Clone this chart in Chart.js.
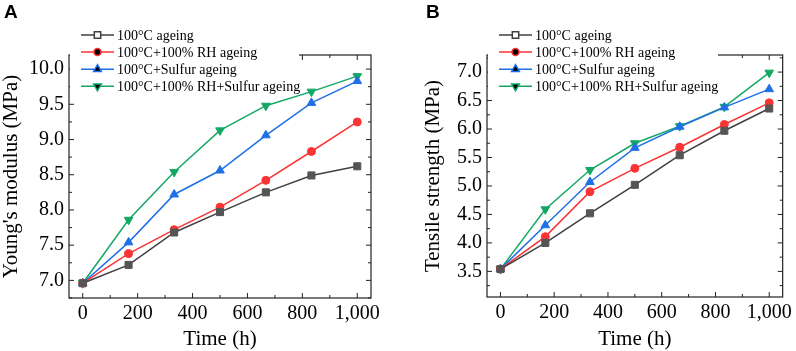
<!DOCTYPE html>
<html>
<head>
<meta charset="utf-8">
<script src="https://cdn.jsdelivr.net/npm/chart.js@4.4.0/dist/chart.umd.min.js"></script>
<style>
  body { margin: 0; background: #fff; }
  #wrap { position: relative; width: 796px; height: 351px; }
  canvas { position: absolute; top: 0; }
</style>
</head>
<body>
<div id="wrap">
  <canvas id="chartA" width="398" height="351" style="left:0"></canvas>
  <canvas id="chartB" width="398" height="351" style="left:398px"></canvas>
</div>
<script>
// ageing time (h)
const times = [0, 167, 333, 500, 667, 833, 1000];
const seriesNames = ['100°C ageing', '100°C+100% RH ageing', '100°C+Sulfur ageing', '100°C+100% RH+Sulfur ageing'];
const xTicks = [0, 200, 400, 600, 800, 1000];

// A: Young's modulus (MPa)
const modHeat      = [6.96, 7.22, 7.68, 7.97, 8.25, 8.49, 8.62];
const modHeatRH    = [6.96, 7.38, 7.72, 8.04, 8.42, 8.83, 9.25];
const modHeatS     = [6.96, 7.54, 8.22, 8.56, 9.06, 9.52, 9.83];
const modHeatRHS   = [6.96, 7.86, 8.54, 9.13, 9.48, 9.68, 9.90];
const modHeatErr    = [0.14, 0.15, 0.17, 0.21, 0.15, 0.18, 0.25];
const modHeatRHErr  = [0.10, 0.08, 0.17, 0.16, 0.12, 0.15, 0.25];
const modHeatSErr   = [0.12, 0.21, 0.10, 0.03, 0.08, 0.11, 0.13];
const modHeatRHSErr = [0.13, 0.22, 0.10, 0.04, 0.09, 0.13, 0.11];
const modTicks = [7.0, 7.5, 8.0, 8.5, 9.0, 9.5, 10.0];

// B: Tensile strength (MPa)
const tsHeat      = [3.54, 4.00, 4.52, 5.02, 5.54, 5.97, 6.36];
const tsHeatRH    = [3.54, 4.11, 4.90, 5.31, 5.68, 6.08, 6.46];
const tsHeatS     = [3.54, 4.31, 5.07, 5.67, 6.04, 6.38, 6.70];
const tsHeatRHS   = [3.54, 4.59, 5.28, 5.75, 6.05, 6.39, 6.99];
const tsHeatErr    = [0.30, 0.10, 0.30, 0.38, 0.28, 0.15, 0.18];
const tsHeatRHErr  = [0.10, 0.10, 0.10, 0.10, 0.10, 0.14, 0.26];
const tsHeatSErr   = [0.12, 0.12, 0.10, 0.10, 0.19, 0.15, 0.13];
const tsHeatRHSErr = [0.31, 0.31, 0.14, 0.10, 0.23, 0.17, 0.11];
const tsTicks = [3.5, 4.0, 4.5, 5.0, 5.5, 6.0, 6.5, 7.0];

const colors = ['#404040', '#fa3434', '#1f6fe5', '#12a864'];
const markerFill = ['#555555', '#fa3434', '#1f6fe5', '#12a864'];
const errColors = ['rgba(90,90,90,0.45)', 'rgba(250,52,52,0.45)', 'rgba(31,111,229,0.45)', 'rgba(18,168,100,0.45)'];
const shapes = ['rect', 'circle', 'triangle', 'triangle'];
const rotations = [0, 0, 0, 180];
const radii = [5, 4, 5, 5];

const serif = '"Liberation Serif", "Times New Roman", serif';

// error bars, boxed frame with inward ticks, legend and panel letter
const originLook = {
  id: 'originLook',
  beforeDatasetsDraw(chart) {
    const ctx = chart.ctx, xs = chart.scales.x, ys = chart.scales.y;
    chart.data.datasets.forEach((ds, i) => {
      ctx.save();
      ctx.strokeStyle = errColors[i];
      ctx.lineWidth = 1;
      ds.data.forEach((v, j) => {
        const e = ds.errors[j];
        const px = xs.getPixelForValue(times[j]);
        const top = ys.getPixelForValue(v + e), bot = ys.getPixelForValue(v - e);
        ctx.beginPath();
        ctx.moveTo(px, top); ctx.lineTo(px, bot);
        ctx.moveTo(px - 3.5, top); ctx.lineTo(px + 3.5, top);
        ctx.moveTo(px - 3.5, bot); ctx.lineTo(px + 3.5, bot);
        ctx.stroke();
      });
      ctx.restore();
    });
  },
  afterDraw(chart) {
    const ctx = chart.ctx, xs = chart.scales.x, ys = chart.scales.y;
    const a = chart.chartArea;
    const o = chart.options.plugins.originLook;
    ctx.save();
    ctx.strokeStyle = '#222';
    ctx.lineWidth = 1.2;
    ctx.strokeRect(a.left, a.top, a.right - a.left, a.bottom - a.top);
    ctx.lineWidth = 1;
    ctx.beginPath();
    for (let t = 0; t <= 1000; t += 100) {
      const px = xs.getPixelForValue(t);
      const len = t % 200 === 0 ? 5 : 3;
      ctx.moveTo(px, a.bottom); ctx.lineTo(px, a.bottom - len);
      ctx.moveTo(px, a.top); ctx.lineTo(px, a.top + len);
    }
    const yt = ys.ticks.map(t => t.value);
    const step = (yt[1] - yt[0]) / 2;
    for (let v = yt[0] - step; v <= ys.max; v += step) {
      if (v < ys.min) continue;
      const py = ys.getPixelForValue(v);
      const major = yt.some(t => Math.abs(t - v) < 1e-6);
      const len = major ? 5 : 3;
      ctx.moveTo(a.left, py); ctx.lineTo(a.left + len, py);
      ctx.moveTo(a.right, py); ctx.lineTo(a.right - len, py);
    }
    ctx.stroke();

    // legend box
    ctx.fillStyle = '#fff';
    ctx.fillRect(a.left + 1, 24, o.boxRight - a.left - 1, 70);
    chart.data.datasets.forEach((ds, i) => {
      const y = 35 + i * 17.1;
      ctx.strokeStyle = colors[i];
      ctx.lineWidth = 1.5;
      ctx.beginPath();
      ctx.moveTo(o.legendX, y); ctx.lineTo(o.legendX + 33, y);
      ctx.stroke();
      Chart.helpers.drawPoint(ctx, {
        pointStyle: shapes[i], rotation: rotations[i], radius: radii[i] - 0.5, borderWidth: 1
      }, o.legendX + 16.5, y);
      ctx.fillStyle = markerFill[i];
      ctx.strokeStyle = markerFill[i];
      ctx.beginPath();
      ctx.fill();
      ctx.fillStyle = '#000';
      ctx.font = '14px ' + serif;
      ctx.textBaseline = 'middle';
      ctx.textAlign = 'left';
      ctx.fillText(ds.label, o.legendX + 36, y + 1);
    });

    ctx.fillStyle = '#000';
    ctx.font = 'bold 19px "Liberation Sans", Arial, sans-serif';
    ctx.textBaseline = 'top';
    ctx.fillText(o.letter, o.letterX, 3);
    ctx.restore();
  }
};

function makeChart(id, seriesList, errList, yMin, yMax, yTicks, yTitle, o) {
  const datasets = seriesList.map((d, i) => ({
    label: seriesNames[i],
    data: d.map((v, j) => ({ x: times[j], y: v })),
    errors: errList[i],
    borderColor: colors[i],
    backgroundColor: markerFill[i],
    pointBorderColor: markerFill[i],
    pointBackgroundColor: markerFill[i],
    borderWidth: 1.5,
    pointStyle: shapes[i],
    pointRotation: rotations[i],
    pointRadius: radii[i],
    pointBorderWidth: 1,
    tension: 0
  }));
  return new Chart(document.getElementById(id), {
    type: 'line',
    data: { datasets },
    plugins: [originLook],
    options: {
      responsive: false,
      animation: false,
      devicePixelRatio: 1,
      layout: { padding: { left: 0, top: 55, right: o.padRight, bottom: 0 } },
      plugins: {
        legend: { display: false },
        tooltip: { enabled: false },
        originLook: o
      },
      scales: {
        x: {
          type: 'linear', min: -50, max: 1050,
          afterBuildTicks: s => { s.ticks = xTicks.map(v => ({ value: v })); },
          afterFit: s => { s.height = o.xHeight; },
          grid: { display: false, drawTicks: false },
          border: { display: false },
          ticks: { color: '#000', padding: 4, maxRotation: 0, font: { family: serif, size: 20 } },
          title: { display: true, text: 'Time (h)', color: '#000', padding: { top: 0, bottom: 1 },
                   font: { family: serif, size: 21, lineHeight: 1 } }
        },
        y: {
          type: 'linear', min: yMin, max: yMax,
          afterBuildTicks: s => { s.ticks = yTicks.map(v => ({ value: v })); },
          afterFit: s => { s.width = o.yWidth; },
          grid: { display: false, drawTicks: false },
          border: { display: false },
          ticks: { color: '#000', padding: 5, callback: v => v.toFixed(1), font: { family: serif, size: 20 } },
          title: { display: true, text: yTitle, color: '#000', padding: { top: o.yTitlePad, bottom: 0 },
                   font: { family: serif, size: 21, lineHeight: 1 } }
        }
      }
    }
  });
}

makeChart('chartA',
  [modHeat, modHeatRH, modHeatS, modHeatRHS],
  [modHeatErr, modHeatRHErr, modHeatSErr, modHeatRHSErr],
  6.75, 10.2, modTicks, "Young's modulus (MPa)",
  { padRight: 27, yWidth: 69, xHeight: 53, yTitlePad: 1, legendX: 81, boxRight: 299, letter: 'A', letterX: 4 });

makeChart('chartB',
  [tsHeat, tsHeatRH, tsHeatS, tsHeatRHS],
  [tsHeatErr, tsHeatRHErr, tsHeatSErr, tsHeatRHSErr],
  3.05, 7.3, tsTicks, 'Tensile strength (MPa)',
  { padRight: 6, yWidth: 89, xHeight: 54, yTitlePad: 25, legendX: 101, boxRight: 320, letter: 'B', letterX: 28 });
</script>
</body>
</html>
